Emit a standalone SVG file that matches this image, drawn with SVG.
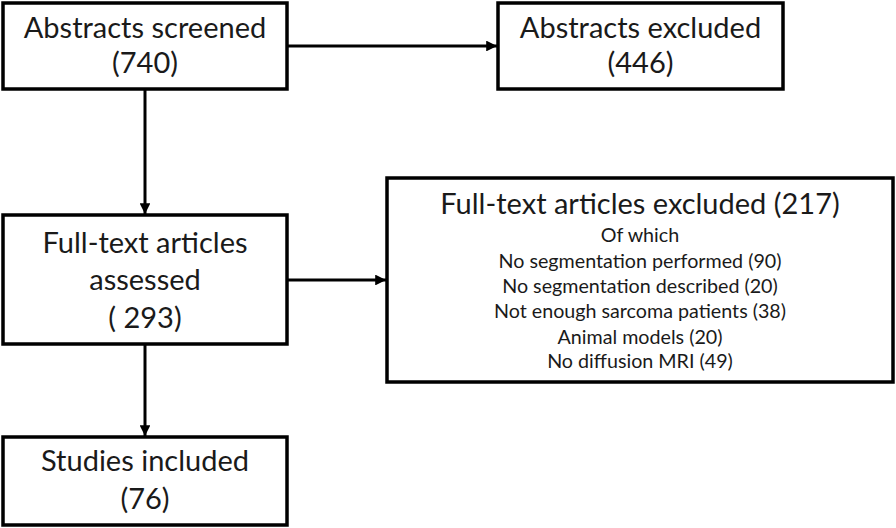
<svg xmlns="http://www.w3.org/2000/svg" width="896" height="528" viewBox="0 0 896 528">
<style>
.box{fill:#fff;stroke:#000;stroke-width:3.5}
.t{font-family:Lato,"Open Sans",sans-serif;font-size:29px;fill:#1a1a1a;text-anchor:middle}
.s{font-family:Lato,"Open Sans",sans-serif;font-size:19.7px;fill:#1a1a1a;text-anchor:middle}
.c{stroke:#000;stroke-width:3;fill:none}
</style>
<defs>
<marker id="ah" viewBox="0 0 10 10" refX="10" refY="5" markerWidth="3.6" markerHeight="3.6" markerUnits="strokeWidth" orient="auto">
<path d="M0,0 L10,5 L0,10 Z" fill="#000"/>
</marker>
</defs>
<rect width="896" height="528" fill="#fff"/>
<g id="connectors">
<line class="c" x1="287" y1="46" x2="497" y2="46" marker-end="url(#ah)"/>
<line class="c" x1="145" y1="89" x2="145" y2="214" marker-end="url(#ah)"/>
<line class="c" x1="287" y1="280" x2="386" y2="280" marker-end="url(#ah)"/>
<line class="c" x1="145" y1="344" x2="145" y2="436" marker-end="url(#ah)"/>
</g>
<g id="abstracts-screened">
<rect class="box" x="3" y="3" width="284" height="86"/>
<text class="t" x="145" y="38">Abstracts screened</text>
<text class="t" x="145" y="73">(740)</text>
</g>
<g id="abstracts-excluded">
<rect class="box" x="498" y="3" width="285" height="86"/>
<text class="t" x="640.5" y="38">Abstracts excluded</text>
<text class="t" x="640.5" y="73">(446)</text>
</g>
<g id="fulltext-assessed">
<rect class="box" x="3" y="215" width="284" height="129"/>
<text class="t" x="145" y="253">Full-text articles</text>
<text class="t" x="145" y="290">assessed</text>
<text class="t" x="145" y="328">( 293)</text>
</g>
<g id="fulltext-excluded">
<rect class="box" x="387" y="178" width="506" height="204"/>
<text class="t" x="640" y="214">Full-text articles excluded (217)</text>
<text class="s" x="640" y="242">Of which</text>
<text class="s" x="640" y="268">No segmentation performed (90)</text>
<text class="s" x="640" y="293">No segmentation described (20)</text>
<text class="s" x="640" y="318">Not enough sarcoma patients (38)</text>
<text class="s" x="640" y="344">Animal models (20)</text>
<text class="s" x="640" y="368">No diffusion MRI (49)</text>
</g>
<g id="studies-included">
<rect class="box" x="3" y="437" width="284" height="88"/>
<text class="t" x="145" y="471">Studies included</text>
<text class="t" x="145" y="509">(76)</text>
</g>
</svg>
